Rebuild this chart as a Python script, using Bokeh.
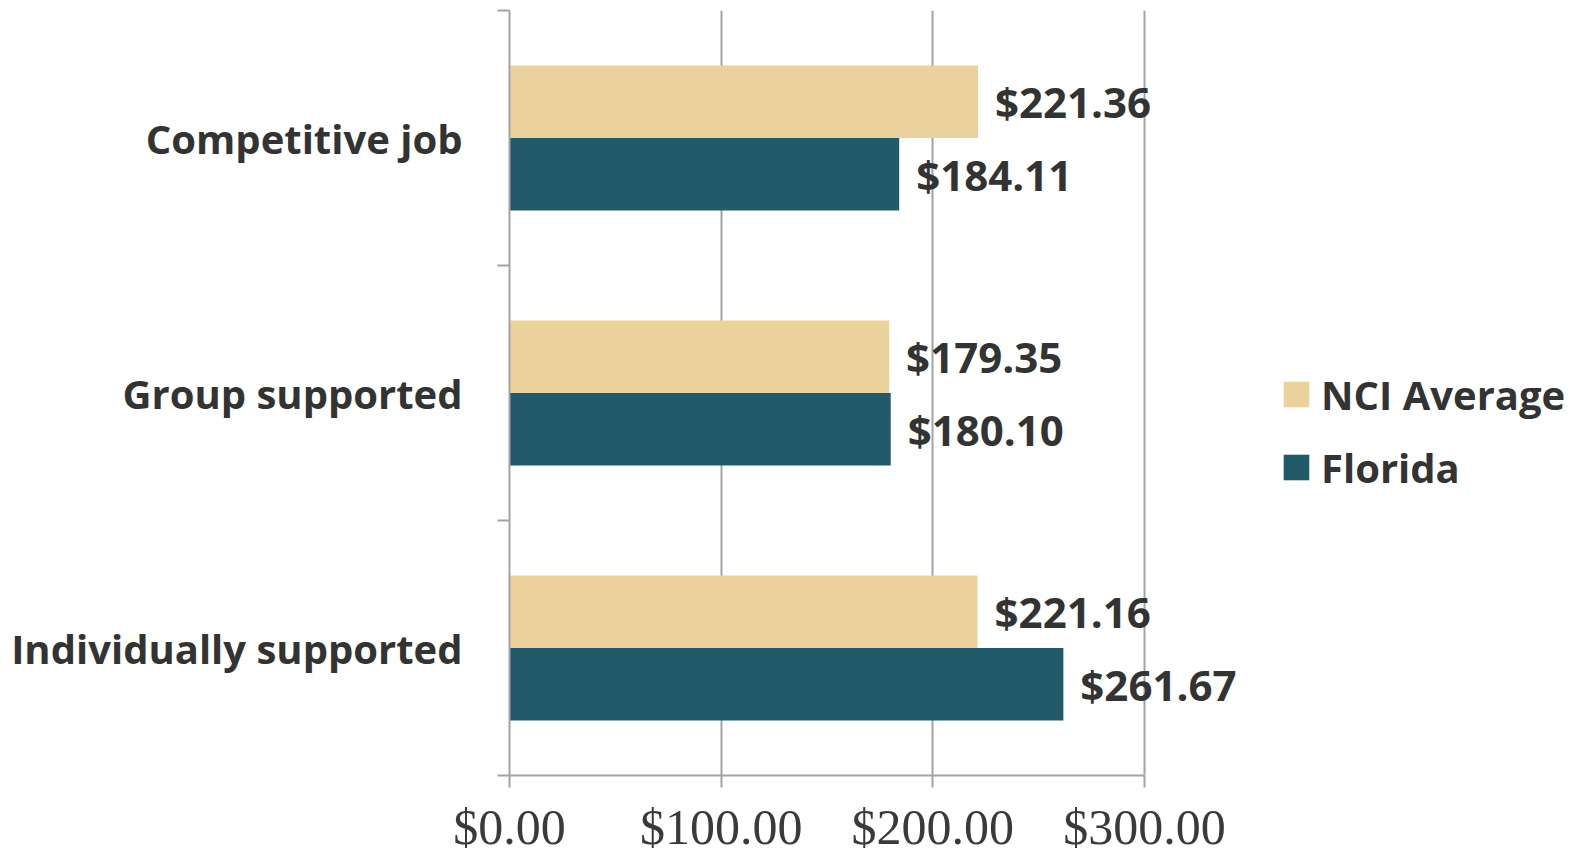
from bokeh.plotting import figure
from bokeh.models import (ColumnDataSource, Range1d, FixedTicker, NumeralTickFormatter,
                          LabelSet, Legend, LegendItem)
from bokeh.core.properties import value
from bokeh.embed import file_html
from bokeh.resources import INLINE

# ---- data ----
categories = ["Individually supported", "Group supported", "Competitive job"]  # bottom -> top
nci_average = [221.16, 179.35, 221.36]
florida = [261.67, 180.10, 184.11]
series_names = ["NCI Average", "Florida"]
x_ticks = [0, 100, 200, 300]

NCI_COLOR = "#EBD29C"
FL_COLOR = "#225A69"
TEXT_COLOR = "#333333"
GRID_COLOR = "#A3A3A3"

centers = [i + 0.5 for i in range(len(categories))]
bar_h = 0.284
off = 0.142

src_nci = ColumnDataSource(dict(
    y=[c + off for c in centers], v=nci_average,
    lab=[f"${v:.2f}" for v in nci_average]))
src_fl = ColumnDataSource(dict(
    y=[c - off for c in centers], v=florida,
    lab=[f"${v:.2f}" for v in florida]))

W, H = 1580, 857
LEFT, TOP, BOTTOM = 509, 10, 82
AXIS_PX = 635            # pixels spanned by the 0..300 axis
frame_w = W - LEFT
x_end = x_ticks[-1] * frame_w / AXIS_PX   # frame extends right to hold labels / legend

p = figure(width=W, height=H, output_backend="svg", toolbar_location=None,
           x_range=Range1d(0, x_end), y_range=Range1d(0, len(categories)),
           min_border_left=LEFT, min_border_right=0, min_border_top=TOP,
           min_border_bottom=BOTTOM)
p.outline_line_color = None
p.background_fill_color = "white"

r_nci = p.hbar(y="y", left=0, right="v", height=bar_h, source=src_nci,
               fill_color=NCI_COLOR, line_color=None)
r_fl = p.hbar(y="y", left=0, right="v", height=bar_h, source=src_fl,
              fill_color=FL_COLOR, line_color=None)

# x axis
xa = p.xaxis[0]
xa.bounds = (x_ticks[0], x_ticks[-1])
xa.ticker = FixedTicker(ticks=x_ticks, minor_ticks=[])
xa.formatter = NumeralTickFormatter(format="$0.00")
xa.major_label_text_font = "Liberation Serif"
xa.major_label_text_font_size = "50px"
xa.major_label_text_color = "#3A3A3A"
xa.major_label_standoff = 11
xa.major_tick_out = 12
xa.major_tick_in = 0
xa.axis_line_color = GRID_COLOR
xa.axis_line_width = 2
xa.major_tick_line_color = GRID_COLOR
xa.major_tick_line_width = 2

# y axis
ya = p.yaxis[0]
ya.ticker = FixedTicker(ticks=centers, minor_ticks=list(range(len(categories) + 1)))
ya.major_label_overrides = {c: name for c, name in zip(centers, categories)}
ya.major_label_text_font = "Open Sans"
ya.major_label_text_font_style = "bold"
ya.major_label_text_font_size = "40px"
ya.major_label_text_color = TEXT_COLOR
ya.major_tick_out = 0
ya.major_tick_in = 0
ya.major_label_standoff = 35
ya.minor_tick_out = 12
ya.minor_tick_in = 0
ya.minor_tick_line_color = GRID_COLOR
ya.minor_tick_line_width = 2
ya.axis_line_color = GRID_COLOR
ya.axis_line_width = 2

p.xgrid.ticker = FixedTicker(ticks=x_ticks)
p.xgrid.grid_line_color = GRID_COLOR
p.xgrid.grid_line_width = 2
p.ygrid.grid_line_color = None

for src in (src_nci, src_fl):
    p.add_layout(LabelSet(x="v", y="y", text="lab", source=src, x_offset=17,
                          text_font=value("Open Sans"), text_font_style="bold",
                          text_font_size="42px", text_color=TEXT_COLOR,
                          text_baseline="middle", text_align="left"))

legend = Legend(items=[LegendItem(label=series_names[0], renderers=[r_nci]),
                       LegendItem(label=series_names[1], renderers=[r_fl])],
                location=(771, 278), orientation="vertical",
                glyph_width=32, glyph_height=32, label_height=60, label_standoff=9,
                spacing=13, padding=0, margin=0,
                border_line_color=None, background_fill_alpha=0,
                label_text_font="Open Sans", label_text_font_style="bold",
                label_text_font_size="40px", label_text_color=TEXT_COLOR)
p.add_layout(legend, "center")

open("out.html", "w").write(file_html(p, INLINE))
